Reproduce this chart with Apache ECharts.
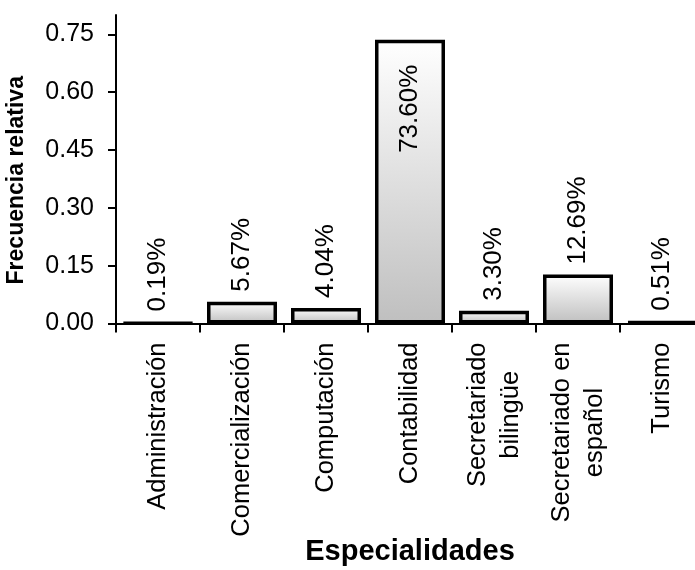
<!DOCTYPE html>
<html>
<head>
<meta charset="utf-8">
<script src="https://cdn.jsdelivr.net/npm/echarts@6/dist/echarts.min.js"></script>
<style>html,body{margin:0;padding:0;background:#fff;}#c{width:695px;height:570px;}</style>
</head>
<body>
<div id="c"></div>
<script>
const categories = ['Administración', 'Comercialización', 'Computación', 'Contabilidad', 'Secretariado\nbilingüe', 'Secretariado en\nespañol', 'Turismo'];
const values = [0.0019, 0.0567, 0.0404, 0.7360, 0.0330, 0.1269, 0.0051];
const yTicks = [0, 0.15, 0.30, 0.45, 0.60, 0.75];
const insideLabelIndex = 3;

const FONT = 'Liberation Sans, Arial, sans-serif';
const chart = echarts.init(document.getElementById('c'));

const data = values.map((v, i) => {
  const d = { value: v };
  if (i === insideLabelIndex) {
    d.label = { position: 'insideTop', align: 'right', verticalAlign: 'middle', distance: 25 };
  }
  return d;
});

chart.setOption({
  animation: false,
  backgroundColor: '#ffffff',
  grid: { left: 116, right: -9, top: 15, bottom: 246.5, containLabel: false, outerBoundsMode: 'none' },
  xAxis: {
    type: 'category',
    data: categories,
    name: 'Especialidades',
    nameLocation: 'middle',
    nameGap: 214,
    nameMoveOverlap: false,
    nameTextStyle: { fontFamily: FONT, fontSize: 29, fontWeight: 'bold', color: '#000' },
    axisLine: { lineStyle: { color: '#000', width: 2 } },
    axisTick: { show: true, length: 9, lineStyle: { color: '#000', width: 2 } },
    axisLabel: {
      rotate: 90,
      margin: 19,
      color: '#000',
      fontFamily: FONT,
      fontSize: 25.5,
      lineHeight: 33,
      formatter: function (v) {
        return v.split('\n').map(s => '{c|' + s + '}').join('\n');
      },
      rich: { c: { align: 'center', fontFamily: FONT, fontSize: 25.5, lineHeight: 33, color: '#000' } }
    }
  },
  yAxis: {
    type: 'value',
    min: 0,
    max: 0.8,
    interval: 0.15,
    name: 'Frecuencia relativa',
    nameLocation: 'middle',
    nameGap: 88,
    nameMoveOverlap: false,
    nameTextStyle: { fontFamily: FONT, fontSize: 23, fontWeight: 'bold', color: '#000', padding: [0, 0, 0, -22] },
    splitLine: { show: false },
    axisLine: { show: true, lineStyle: { color: '#000', width: 2 } },
    axisTick: { show: true, length: 8, customValues: yTicks, lineStyle: { color: '#000', width: 2 } },
    axisLabel: {
      customValues: yTicks,
      margin: 22,
      color: '#000',
      fontFamily: FONT,
      fontSize: 25,
      formatter: v => v.toFixed(2)
    }
  },
  series: [{
    type: 'bar',
    data: data,
    barWidth: 70,
    itemStyle: {
      borderColor: '#000',
      borderWidth: 3.5,
      color: new echarts.graphic.LinearGradient(0, 0, 0, 1, [
        { offset: 0, color: '#ffffff' },
        { offset: 1, color: '#bfbfbf' }
      ])
    },
    label: {
      show: true,
      position: 'top',
      rotate: 90,
      align: 'left',
      verticalAlign: 'middle',
      distance: 10,
      color: '#000',
      fontFamily: FONT,
      fontSize: 26,
      formatter: p => (p.value * 100).toFixed(2) + '%'
    }
  }]
});
</script>
</body>
</html>
